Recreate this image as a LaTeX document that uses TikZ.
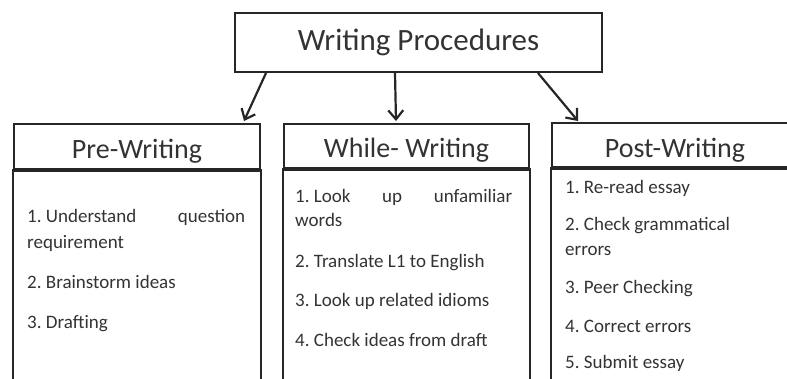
\documentclass[tikz,border=0pt]{standalone}
\usepackage{fontspec}
\setmainfont{Carlito}
\usepackage{tikz}
\usetikzlibrary{calc, positioning}
\usetikzlibrary{arrows.meta}
\tikzset{>={Straight Barb[width=15pt,length=9pt]}}
\frenchspacing

\begin{document}
\begin{tikzpicture}[
    x = 1pt, y = -1pt,
    frame/.style = {draw=black!85, line width=2pt},
    head/.style = {frame, minimum width=246pt, minimum height=45pt,
        inner sep=0pt, anchor=north west, text=black!80,
        font=\fontsize{28}{30}\selectfont, text height=23pt, text depth=0pt},
    item/.style = {anchor=base west, inner sep=0pt, text=black!80,
        font=\fontsize{19}{22}\selectfont},
    link/.style = {->, draw=black!85, line width=2.2pt}
  ]
  \useasboundingbox (0,0) rectangle (787,378);
  \clip (0,0) rectangle (787,378);

  \node[frame, minimum width=367pt, minimum height=59pt, inner sep=0pt,
    text=black!80, font=\fontsize{31}{34}\selectfont] (title) at (418.5,42.5) {Writing Procedures};

  \node[head] (pre) at (13,123) {Pre-Writing};
  \node[head, minimum width=245pt, minimum height=44pt] (while) at (283,123) {While- Writing};
  \node[head, minimum height=44pt, text height=25pt] (post) at (551,122) {Post-Writing};

  % lower parts of the three boxes
  \foreach \h in {pre, while, post} {
    \draw[frame] (\h.south west) rectangle ($(\h.south east)+(0,215)$);
    \draw[black!85, line width=3.5pt] (\h.south west) -- (\h.south east);
  }

  \foreach \txt/\y [count=\i] in {{\makebox[218pt][s]{1.\kern4.3pt Understand\hfill question}}/222,
      requirement/248, 2. Brainstorm ideas/288, 3. Drafting/328}
    \node[item] (pre-\i) at (27,\y) {\txt};

  \foreach \txt/\y [count=\i] in {{\makebox[217pt][s]{1.\kern4.3pt Look\hfill up\hfill unfamiliar}}/202,
      words/226, 2. Translate L1 to English/267, 3. Look up related idioms/306,
      4. Check ideas from draft/346}
    \node[item] (while-\i) at (295,\y) {\txt};

  \foreach \txt/\y [count=\i] in {1. Re-read essay/193, 2. Check grammatical/230,
      errors/255, 3. Peer Checking/293, 4. Correct errors/332, 5. Submit essay/368}
    \node[item] (post-\i) at (565,\y) {\txt};

  \draw[link] ($(title.south west)+(32,0)$) -- ($(pre.north east)+(-17,-2)$);
  \draw[link] ($(title.south west)+(161,0)$) -- ($(while.north west)+(113,-2)$);
  \draw[link] ($(title.south east)+(-65,0)$) -- ($(post.north west)+(27,-1)$);
\end{tikzpicture}
\end{document}
